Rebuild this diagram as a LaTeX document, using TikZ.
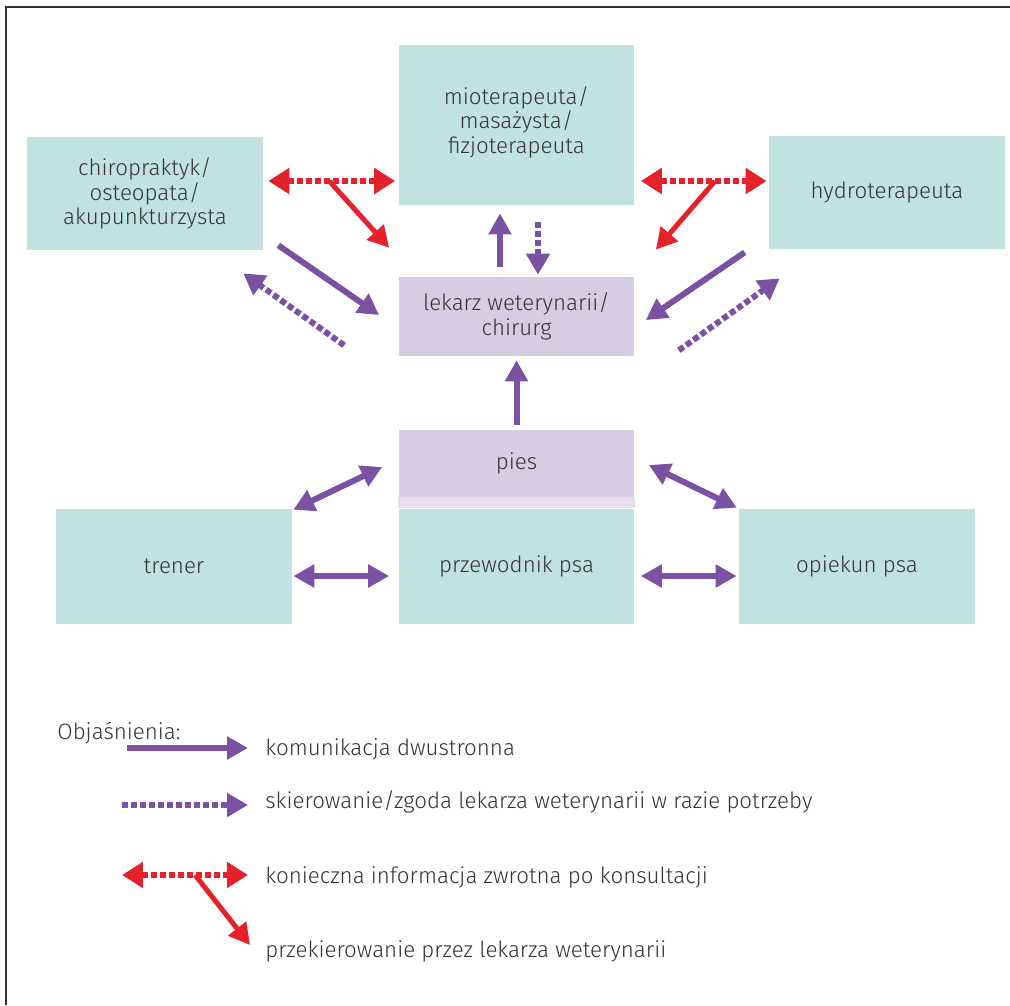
\documentclass[tikz,border=0pt]{standalone}
\usepackage{fontspec}
\setmainfont{Fira Sans}[UprightFont={* Light}]
\usetikzlibrary{arrows.meta,calc}
\definecolor{boxteal}{HTML}{C1E2DF}
\definecolor{boxlilac}{HTML}{D5CDE3}
\definecolor{striplilac}{HTML}{E4DEEC}
\definecolor{arrowpurple}{HTML}{7B52A3}
\definecolor{arrowred}{HTML}{E4222B}
\definecolor{textgray}{HTML}{333333}

\begin{document}
\begin{tikzpicture}[
    x=0.02cm, y=-0.02cm,
    box/.style={fill=boxteal, minimum width=4.72cm, inner sep=0pt, align=center, text=textgray, font=\fontsize{12.7}{14}\selectfont},
    vetbox/.style={box, fill=boxlilac},
    legend/.style={anchor=west, inner sep=0pt, text=textgray, font=\fontsize{12.7}{14}\selectfont},
    comm/.style={draw=arrowpurple, line width=0.12cm, -{Triangle[length=0.42cm,width=0.44cm]}},
    commboth/.style={comm, {Triangle[length=0.42cm,width=0.44cm]}-{Triangle[length=0.42cm,width=0.44cm]}},
    refer/.style={draw=arrowpurple, line width=0.12cm, dash pattern=on 0.12cm off 0.06cm, -{Triangle[length=0.42cm,width=0.46cm]}},
    fback/.style={draw=arrowred, line width=0.12cm, dash pattern=on 0.12cm off 0.06cm, {Triangle[length=0.42cm,width=0.5cm]}-{Triangle[length=0.42cm,width=0.5cm]}},
    redir/.style={draw=arrowred, line width=0.1cm, -{Triangle[length=0.42cm,width=0.44cm]}}
  ]
    \useasboundingbox (0,0) rectangle (1010,1005);
    % frame
    \draw[line width=0.04cm, textgray] (1010,7) -- (6,7) -- (6,1005);

    % --- specialists ---
    \node[box, minimum height=3.2cm] (mio) at (516.5,125) {mioterapeuta/\\masażysta/\\fizjoterapeuta\\[-8pt]};
    \node[box, minimum height=2.26cm] (chiro) at (145,193.5) {chiropraktyk/\\osteopata/\\akupunkturzysta};
    \node[box, minimum height=2.26cm] (hydro) at (887,192.5) {hydroterapeuta};

    % --- vet and dog ---
    \node[vetbox, minimum height=1.58cm] (vet) at (516.5,316.5) {lekarz weterynarii/\\chirurg};
    \node[vetbox, minimum height=1.34cm] (pies) at (516.5,463.5) {pies};

    % --- people around the dog ---
    \node[box, minimum height=2.3cm] (trener) at (174,566.5) {trener};
    \node[box, minimum height=2.3cm] (przew) at (516.5,566.5) {przewodnik psa};
    \node[box, minimum height=2.3cm] (opiekun) at (857,566.5) {opiekun psa};
    \fill[striplilac] (pies.south west) rectangle ($(pies.south east)+(0,11)$);

    % feedback after consultation
    \draw[fback] ($(chiro.east)+(5,-12.5)$) coordinate (fbl1) -- ($(mio.west)+(-3,56)$) coordinate (fbl2);
    \draw[redir] ($(fbl1)!0.48!(fbl2)$) -- ($(vet.north west)+(-9,-29)$);
    \draw[fback] ($(mio.east)+(6,56)$) coordinate (fbr1) -- ($(hydro.west)+(-2,-11.5)$) coordinate (fbr2);
    \draw[redir] ($(fbr1)!0.59!(fbr2)$) -- ($(vet.north east)+(21,-27)$);

    % vet <-> specialists
    \draw[comm] ($(vet.north)+(-16.5,-10)$) -- ($(mio.south)+(-16.5,8)$);
    \draw[refer] ($(mio.south)+(21.5,17)$) -- ($(vet.north)+(21.5,-2)$);
    \draw[comm] ($(chiro.south east)+(15,-5)$) -- ($(vet.west)+(-19,-1.5)$);
    \draw[refer] ($(vet.south west)+(-54,-11)$) -- ($(chiro.south east)+(-20,23)$);
    \draw[comm] ($(hydro.south west)+(-24,3)$) -- ($(vet.east)+(11,3.5)$);
    \draw[refer] ($(vet.south east)+(44,-6)$) -- ($(hydro.south west)+(11,29)$);

    % dog
    \draw[comm] ($(pies.north)+(0,-5)$) -- ($(vet.south)+(0,4)$);
    \draw[commboth] ($(trener.north east)+(1,1)$) -- ($(pies.west)+(-16,3.5)$);
    \draw[commboth] ($(pies.east)+(14,1.5)$) -- ($(opiekun.north west)+(-2,-1)$);
    \draw[commboth] ($(trener.east)+(1,9.5)$) -- ($(przew.west)+(-9,9.5)$);
    \draw[commboth] ($(przew.east)+(6,9.5)$) -- ($(opiekun.west)+(-2,9.5)$);

    % --- legend ---
    \node[legend] (legtitle) at (57,733) {Objaśnienia:};
    \node[legend] (leg1) at (265,749) {komunikacja dwustronna};
    \node[legend] (leg2) at (265,802) {skierowanie/zgoda lekarza weterynarii w razie potrzeby};
    \node[legend] (leg3) at (265,877) {konieczna informacja zwrotna po konsultacji};
    \node[legend] (leg4) at (265,951) {przekierowanie przez lekarza weterynarii};
    \draw[comm] ($(leg1.west)+(-138,-1)$) -- ($(leg1.west)+(-17,-1)$);
    \draw[refer] ($(leg2.west)+(-143,3)$) -- ($(leg2.west)+(-17,3)$);
    \draw[fback] ($(leg3.west)+(-143,-2)$) coordinate (fbg1) -- ($(leg3.west)+(-17,-2)$) coordinate (fbg2);
    \draw[redir] ($(fbg1)!0.58!(fbg2)$) -- ($(leg4.west)+(-15,-6)$);
\end{tikzpicture}
\end{document}
